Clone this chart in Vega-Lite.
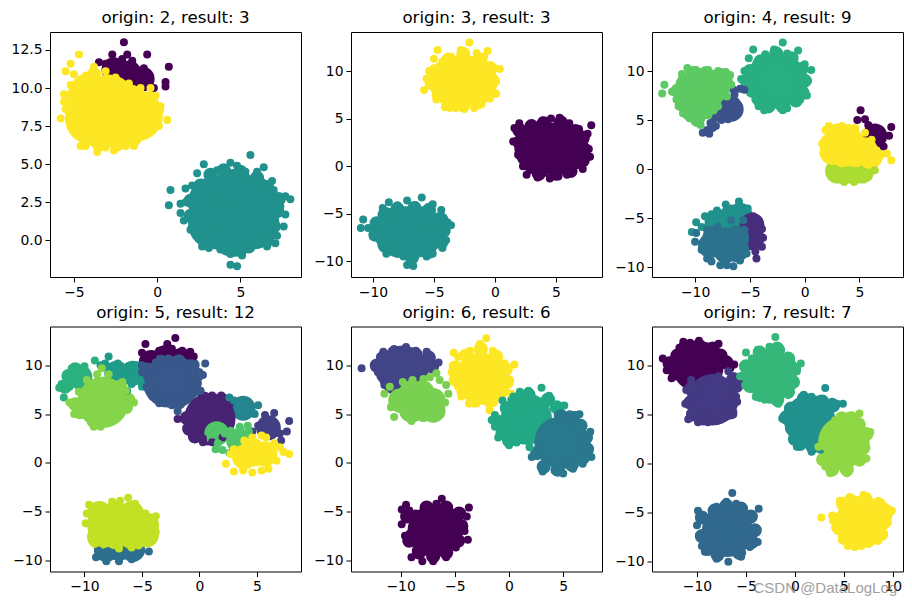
{"$schema":"https://vega.github.io/schema/vega-lite/v6.json","background":"white","padding":{"left":10,"top":9,"right":0,"bottom":0},"bounds":"flush","columns":3,"spacing":{"row":49.5,"column":50},"resolve":{"scale":{"color":"independent"}},
"config":{"view":{"stroke":"#000","strokeWidth":1},"circle":{"opacity":1},"title":{"font":"DejaVu Sans","fontSize":16.67,"fontWeight":"normal","color":"#000","offset":5,"anchor":"middle"},"axis":{"grid":false,"domain":false,"title":null,"labelFont":"DejaVu Sans","labelFontSize":13.9,"labelColor":"#000","tickColor":"#000","tickSize":5,"tickWidth":1,"labelPadding":3,"labelFlush":false,"labelOverlap":false}},
"datasets":{
"m1":[{"x":-1.7,"y":11,"c":0},{"x":-2.6,"y":11.2,"c":0},{"x":-0.9,"y":10.6,"c":0}],
"b1":[{"x":4.6,"y":1.8,"c":1},{"x":3.4,"y":2.5,"c":1},{"x":5.8,"y":2.5,"c":1},{"x":3.4,"y":1.1,"c":1},{"x":5.8,"y":1.1,"c":1},{"x":4.6,"y":3,"c":1},{"x":4.6,"y":0.6,"c":1},{"x":5.7,"y":1.8,"c":1},{"x":-2.8,"y":8.3,"c":2},{"x":-3.7,"y":8.9,"c":2},{"x":-1.9,"y":8.6,"c":2},{"x":-3.3,"y":7.7,"c":2},{"x":-2,"y":7.8,"c":2},{"x":-2.9,"y":9.2,"c":2},{"x":-1.2,"y":8.2,"c":2},{"x":-4,"y":8,"c":2},{"x":-3.9,"y":9.2,"c":2}],
"r1":[{"x":2.6,"y":3.6,"c":1},{"x":2,"y":2.6,"c":1},{"x":2,"y":1.6,"c":1},{"x":2.6,"y":0.6,"c":1},{"x":3.3,"y":-0.1,"c":1},{"x":4.4,"y":-0.5,"c":1},{"x":5.5,"y":-0.4,"c":1},{"x":6.6,"y":0,"c":1},{"x":7,"y":0.9,"c":1},{"x":7.2,"y":1.9,"c":1},{"x":7.3,"y":2.7,"c":1},{"x":6.6,"y":3.5,"c":1},{"x":6,"y":4.1,"c":1},{"x":5,"y":4.5,"c":1},{"x":4,"y":4.6,"c":1},{"x":3.2,"y":4.3,"c":1},{"x":-5,"y":9.6,"c":2},{"x":-5.1,"y":8.6,"c":2},{"x":-4.8,"y":7.7,"c":2},{"x":-4.3,"y":6.8,"c":2},{"x":-3.5,"y":6.3,"c":2},{"x":-2.4,"y":6.3,"c":2},{"x":-1.4,"y":6.6,"c":2},{"x":-0.5,"y":7.6,"c":2},{"x":0,"y":8.6,"c":2},{"x":-0.4,"y":9.3,"c":2},{"x":-4.5,"y":10.4,"c":2},{"x":-3.8,"y":10.9,"c":2}],
"d1":[{"x":-2,"y":13,"c":0},{"x":-2.7,"y":12.2,"c":0},{"x":-0.6,"y":12.2,"c":0},{"x":0.7,"y":11.4,"c":0},{"x":-1.8,"y":12.2,"c":0},{"x":-3.5,"y":11.7,"c":0},{"x":-1.5,"y":11.8,"c":0},{"x":-0.8,"y":11.3,"c":0},{"x":0.5,"y":10.4,"c":0},{"x":0.5,"y":10.1,"c":0},{"x":-0.2,"y":10,"c":0},{"x":-0.5,"y":10.8,"c":0},{"x":-2.5,"y":11.5,"c":0},{"x":-3.1,"y":11.6,"c":0},{"x":-2.1,"y":11.9,"c":0},{"x":-1.3,"y":10.9,"c":0},{"x":-1.9,"y":11.1,"c":0},{"x":-2.5,"y":11,"c":0},{"x":-0.9,"y":10.3,"c":0},{"x":-1.5,"y":11.2,"c":0},{"x":-0.9,"y":10.7,"c":0},{"x":-2,"y":11.5,"c":0},{"x":-4.7,"y":12.2,"c":2},{"x":-5.2,"y":11.6,"c":2},{"x":-5.5,"y":11.1,"c":2},{"x":-5.2,"y":10.2,"c":2},{"x":-5.8,"y":8,"c":2},{"x":-5.6,"y":9.6,"c":2},{"x":-5.6,"y":9.1,"c":2},{"x":-4.8,"y":6.9,"c":2},{"x":-4.6,"y":6.2,"c":2},{"x":-3.6,"y":5.8,"c":2},{"x":-2.6,"y":5.9,"c":2},{"x":-1.9,"y":6.2,"c":2},{"x":-1.4,"y":6.2,"c":2},{"x":-1.2,"y":6.6,"c":2},{"x":-0.4,"y":7.2,"c":2},{"x":0.1,"y":7.5,"c":2},{"x":0.6,"y":7.9,"c":2},{"x":0.2,"y":8.8,"c":2},{"x":-0.1,"y":9.5,"c":2},{"x":-0.4,"y":10,"c":2},{"x":-5.5,"y":8.6,"c":2},{"x":-5.2,"y":7.9,"c":2},{"x":-4.8,"y":10.4,"c":2},{"x":-4.3,"y":10.8,"c":2},{"x":-3.8,"y":11.4,"c":2},{"x":-3.1,"y":11.1,"c":2},{"x":-2.5,"y":10.7,"c":2},{"x":-1.7,"y":10.3,"c":2},{"x":-1,"y":10,"c":2},{"x":-4.3,"y":6.2,"c":2},{"x":-3.1,"y":6.1,"c":2},{"x":-5,"y":10.9,"c":2},{"x":5.6,"y":5.6,"c":1},{"x":2.8,"y":5,"c":1},{"x":6.4,"y":4.8,"c":1},{"x":4.4,"y":5.1,"c":1},{"x":4.8,"y":4.9,"c":1},{"x":2.4,"y":4.4,"c":1},{"x":0.8,"y":3.3,"c":1},{"x":0.7,"y":2.3,"c":1},{"x":1.7,"y":3.4,"c":1},{"x":1.4,"y":2.4,"c":1},{"x":1.4,"y":1.8,"c":1},{"x":1.6,"y":1.3,"c":1},{"x":2.1,"y":0.9,"c":1},{"x":2.7,"y":-0.4,"c":1},{"x":3.1,"y":-0.5,"c":1},{"x":4.4,"y":-1.6,"c":1},{"x":4.8,"y":-1.7,"c":1},{"x":5.1,"y":-1,"c":1},{"x":4.4,"y":-0.9,"c":1},{"x":6,"y":-0.3,"c":1},{"x":7.1,"y":-0.2,"c":1},{"x":7.2,"y":0.3,"c":1},{"x":7.6,"y":0.9,"c":1},{"x":7.7,"y":1.7,"c":1},{"x":8,"y":2.7,"c":1},{"x":7.7,"y":2.9,"c":1},{"x":7,"y":3.3,"c":1},{"x":6.9,"y":3.9,"c":1},{"x":6,"y":4.5,"c":1},{"x":5.3,"y":4.5,"c":1},{"x":3.6,"y":4.6,"c":1},{"x":2.1,"y":3.6,"c":1},{"x":1.7,"y":2.5,"c":1},{"x":2.6,"y":0.2,"c":1},{"x":3.8,"y":-0.6,"c":1},{"x":6.6,"y":-0.4,"c":1},{"x":2,"y":0.7,"c":1},{"x":7.4,"y":2.2,"c":1}],
"b2":[{"x":-2.6,"y":8.9,"c":2},{"x":-3.3,"y":8.9,"c":2},{"x":-1.9,"y":8.9,"c":2},{"x":3.7,"y":1.9,"c":0},{"x":5.5,"y":1.9,"c":0},{"x":4.6,"y":1.9,"c":0},{"x":-7,"y":-6.9,"c":1},{"x":-6.3,"y":-6.9,"c":1},{"x":-7.8,"y":-6.9,"c":1}],
"r2":[{"x":-4.9,"y":10,"c":2},{"x":-5.2,"y":8.8,"c":2},{"x":-4.6,"y":7.4,"c":2},{"x":-3.8,"y":6.6,"c":2},{"x":-2.6,"y":6.4,"c":2},{"x":-1.4,"y":6.7,"c":2},{"x":-0.5,"y":7.6,"c":2},{"x":-0.2,"y":9,"c":2},{"x":-0.4,"y":10.3,"c":2},{"x":-1.2,"y":11.2,"c":2},{"x":-2.6,"y":11.8,"c":2},{"x":-3.8,"y":11.2,"c":2},{"x":2,"y":3.8,"c":0},{"x":2,"y":2.5,"c":0},{"x":2.4,"y":1.2,"c":0},{"x":2.9,"y":0.1,"c":0},{"x":3.6,"y":-0.8,"c":0},{"x":5,"y":-0.8,"c":0},{"x":6.2,"y":-0.5,"c":0},{"x":7.2,"y":0.6,"c":0},{"x":7.3,"y":1.8,"c":0},{"x":7.2,"y":3,"c":0},{"x":6.6,"y":3.7,"c":0},{"x":5.4,"y":4.6,"c":0},{"x":4,"y":4.5,"c":0},{"x":3,"y":4.2,"c":0},{"x":-9.7,"y":-6,"c":1},{"x":-9.8,"y":-7.2,"c":1},{"x":-9,"y":-8.4,"c":1},{"x":-8,"y":-8.9,"c":1},{"x":-6.8,"y":-9.6,"c":1},{"x":-5.4,"y":-9,"c":1},{"x":-4.4,"y":-8,"c":1},{"x":-4.2,"y":-6.8,"c":1},{"x":-4.4,"y":-5.6,"c":1},{"x":-5.4,"y":-4.6,"c":1},{"x":-6.6,"y":-4.4,"c":1},{"x":-8,"y":-4.5,"c":1},{"x":-9,"y":-5,"c":1}],
"d2":[{"x":-2.1,"y":13,"c":2},{"x":-4.7,"y":12.2,"c":2},{"x":-0.6,"y":12.1,"c":2},{"x":-5,"y":11.3,"c":2},{"x":0.4,"y":10.2,"c":2},{"x":-5.4,"y":10,"c":2},{"x":-5.6,"y":9.2,"c":2},{"x":-5.8,"y":8,"c":2},{"x":-4.8,"y":7,"c":2},{"x":-4.1,"y":6.2,"c":2},{"x":-3.7,"y":6.1,"c":2},{"x":-2.5,"y":6,"c":2},{"x":-1.7,"y":6.1,"c":2},{"x":-1.1,"y":6.5,"c":2},{"x":-0.4,"y":7.1,"c":2},{"x":0.1,"y":7.6,"c":2},{"x":0.1,"y":8.9,"c":2},{"x":0,"y":10.3,"c":2},{"x":-0.9,"y":11.5,"c":2},{"x":-1.5,"y":11.9,"c":2},{"x":-2.8,"y":12.2,"c":2},{"x":-3.6,"y":11.5,"c":2},{"x":-4.3,"y":11,"c":2},{"x":-5.2,"y":8.4,"c":2},{"x":-4.4,"y":7.3,"c":2},{"x":-3.2,"y":6.1,"c":2},{"x":7.9,"y":4.3,"c":0},{"x":7.6,"y":3.4,"c":0},{"x":7.7,"y":1.8,"c":0},{"x":7.8,"y":1,"c":0},{"x":7.2,"y":-0.3,"c":0},{"x":5.9,"y":-0.9,"c":0},{"x":4.5,"y":-1.3,"c":0},{"x":3.5,"y":-1.2,"c":0},{"x":2.6,"y":-0.9,"c":0},{"x":2.3,"y":0,"c":0},{"x":1.9,"y":1.2,"c":0},{"x":1.5,"y":2.6,"c":0},{"x":1.6,"y":4,"c":0},{"x":2,"y":4.5,"c":0},{"x":2.9,"y":4.4,"c":0},{"x":3.9,"y":4.8,"c":0},{"x":5.3,"y":5.1,"c":0},{"x":4.6,"y":5,"c":0},{"x":6.1,"y":4.5,"c":0},{"x":6.9,"y":3.9,"c":0},{"x":7.4,"y":2.8,"c":0},{"x":1.9,"y":3.5,"c":0},{"x":6.7,"y":0.1,"c":0},{"x":5.2,"y":-1.1,"c":0},{"x":4.1,"y":-0.7,"c":0},{"x":3,"y":-0.4,"c":0},{"x":-6,"y":-3.3,"c":1},{"x":-8.7,"y":-3.8,"c":1},{"x":-5.1,"y":-4,"c":1},{"x":-7.2,"y":-3.6,"c":1},{"x":-10.8,"y":-5.6,"c":1},{"x":-11,"y":-6.5,"c":1},{"x":-3.6,"y":-6.2,"c":1},{"x":-3.9,"y":-5.9,"c":1},{"x":-4,"y":-7.8,"c":1},{"x":-4.3,"y":-8.6,"c":1},{"x":-5.1,"y":-9.2,"c":1},{"x":-6.7,"y":-10.5,"c":1},{"x":-7.2,"y":-10.4,"c":1},{"x":-7.5,"y":-9.5,"c":1},{"x":-8.9,"y":-9.2,"c":1},{"x":-9.3,"y":-8.3,"c":1},{"x":-10,"y":-7.4,"c":1},{"x":-10.4,"y":-6.5,"c":1},{"x":-9.3,"y":-5.1,"c":1},{"x":-9.2,"y":-4.4,"c":1},{"x":-8,"y":-4.1,"c":1},{"x":-6.5,"y":-4.1,"c":1},{"x":-4.7,"y":-5.3,"c":1},{"x":-5.6,"y":-9.5,"c":1},{"x":-8.1,"y":-9,"c":1},{"x":-4.4,"y":-4.6,"c":1}],
"b3":[{"x":-2.6,"y":9.2,"c":5},{"x":-3.1,"y":9,"c":5},{"x":-2.1,"y":9,"c":5},{"x":-9.2,"y":7.7,"c":6}],
"r3":[{"x":-5,"y":10,"c":5},{"x":-5.3,"y":9,"c":5},{"x":-4.8,"y":8,"c":5},{"x":-4.1,"y":7,"c":5},{"x":-3.3,"y":6.4,"c":5},{"x":-2,"y":6.4,"c":5},{"x":-0.8,"y":7,"c":5},{"x":-0.2,"y":7.8,"c":5},{"x":0,"y":9,"c":5},{"x":-0.3,"y":10.2,"c":5},{"x":-1.2,"y":11.3,"c":5},{"x":-2.6,"y":11.8,"c":5},{"x":-4,"y":11,"c":5},{"x":-11.6,"y":8,"c":6},{"x":-11,"y":9,"c":6},{"x":-10.2,"y":9.8,"c":6},{"x":-9,"y":9.8,"c":6},{"x":-7.6,"y":9.6,"c":6},{"x":-7.2,"y":9,"c":6},{"x":-11.2,"y":6.6,"c":6},{"x":-10.6,"y":5.7,"c":6},{"x":-9.8,"y":5,"c":6}],
"m3":[{"x":-8,"y":-5.5,"c":4},{"x":-6.8,"y":-5,"c":4},{"x":-5.9,"y":-4.7,"c":4},{"x":-4.8,"y":-7,"c":1},{"x":-4.8,"y":-5.7,"c":1},{"x":-8.6,"y":-7.8,"c":3},{"x":-7.2,"y":-7.2,"c":3},{"x":-7.2,"y":-8.3,"c":3},{"x":-6.2,"y":-7,"c":3},{"x":-6.2,"y":-8.2,"c":3},{"x":-8.2,"y":-7,"c":3},{"x":-6.7,"y":6.1,"c":2},{"x":6.4,"y":3.4,"c":0},{"x":4,"y":-0.2,"c":7},{"x":5.2,"y":-0.2,"c":7},{"x":3,"y":-0.2,"c":7},{"x":3.5,"y":2.5,"c":8},{"x":2.5,"y":2.5,"c":8},{"x":4.5,"y":2.5,"c":8},{"x":5.5,"y":2,"c":8},{"x":3.5,"y":1.5,"c":8},{"x":2.5,"y":1.7,"c":8},{"x":4.5,"y":1.5,"c":8},{"x":6,"y":1.3,"c":8},{"x":3,"y":3.4,"c":8},{"x":4,"y":3.3,"c":8}],
"d3":[{"x":-2,"y":12.9,"c":5},{"x":-4.7,"y":12.2,"c":5},{"x":-0.6,"y":12.1,"c":5},{"x":-5.1,"y":11.3,"c":5},{"x":0.6,"y":10.1,"c":5},{"x":-5.5,"y":10,"c":5},{"x":-5.8,"y":9.2,"c":5},{"x":-5.1,"y":8.3,"c":5},{"x":-4.5,"y":7.1,"c":5},{"x":-3.7,"y":6,"c":5},{"x":-2,"y":6,"c":5},{"x":-1.6,"y":6.2,"c":5},{"x":-0.4,"y":7.1,"c":5},{"x":0.2,"y":7.5,"c":5},{"x":0.3,"y":9,"c":5},{"x":0,"y":10.7,"c":5},{"x":-1.6,"y":11.8,"c":5},{"x":-2.8,"y":12.2,"c":5},{"x":-3.6,"y":11.7,"c":5},{"x":-4.4,"y":10.8,"c":5},{"x":-2.7,"y":6.6,"c":5},{"x":-4.2,"y":6.4,"c":5},{"x":-5.9,"y":8.2,"c":2},{"x":-6.4,"y":7.6,"c":2},{"x":-6.3,"y":6.9,"c":2},{"x":-6.1,"y":6.4,"c":2},{"x":-6.4,"y":5.7,"c":2},{"x":-7,"y":5.1,"c":2},{"x":-7.6,"y":5,"c":2},{"x":-8.1,"y":4.4,"c":2},{"x":-8.6,"y":4.7,"c":2},{"x":-9.3,"y":3.7,"c":2},{"x":-8.7,"y":3.6,"c":2},{"x":-7,"y":6.2,"c":2},{"x":-7.6,"y":5.7,"c":2},{"x":-8.2,"y":5.2,"c":2},{"x":-6.8,"y":7.1,"c":2},{"x":-6.5,"y":8.1,"c":2},{"x":-5.5,"y":8.1,"c":2},{"x":-7.2,"y":6.6,"c":2},{"x":-7.8,"y":5.6,"c":2},{"x":-8.4,"y":4.2,"c":2},{"x":-8.9,"y":4,"c":2},{"x":-10.7,"y":10.3,"c":6},{"x":-11.2,"y":9.7,"c":6},{"x":-12.8,"y":8.6,"c":6},{"x":-13,"y":7.7,"c":6},{"x":-12.1,"y":7.9,"c":6},{"x":-11.7,"y":7.1,"c":6},{"x":-11.1,"y":5.7,"c":6},{"x":-10.5,"y":5.2,"c":6},{"x":-9.5,"y":4.5,"c":6},{"x":-8.8,"y":5.5,"c":6},{"x":-7.9,"y":6.4,"c":6},{"x":-7.1,"y":7.4,"c":6},{"x":-6.7,"y":8.6,"c":6},{"x":-6.8,"y":9.6,"c":6},{"x":-7.2,"y":9.9,"c":6},{"x":-8.8,"y":10.1,"c":6},{"x":-9.9,"y":10.1,"c":6},{"x":-11.4,"y":8.8,"c":6},{"x":-8.3,"y":6,"c":6},{"x":-9.4,"y":5.2,"c":6},{"x":-11.5,"y":6.4,"c":6},{"x":-7.9,"y":10,"c":6},{"x":-6,"y":-3.3,"c":4},{"x":-5.2,"y":-4,"c":4},{"x":-7.2,"y":-3.6,"c":4},{"x":-6.7,"y":-4,"c":4},{"x":-8,"y":-4.2,"c":4},{"x":-9.1,"y":-4.8,"c":4},{"x":-9.9,"y":-5.4,"c":4},{"x":-10.3,"y":-6.4,"c":4},{"x":-8.5,"y":-4.6,"c":4},{"x":-9.4,"y":-5.9,"c":4},{"x":-4.7,"y":-4.8,"c":1},{"x":-4.7,"y":-5.4,"c":1},{"x":-3.9,"y":-6.1,"c":1},{"x":-3.8,"y":-7,"c":1},{"x":-3.9,"y":-7.9,"c":1},{"x":-4.5,"y":-8.4,"c":1},{"x":-4.4,"y":-9.1,"c":1},{"x":-10,"y":-7.4,"c":3},{"x":-9.9,"y":-6.5,"c":3},{"x":-8.9,"y":-6.2,"c":3},{"x":-7.9,"y":-5.9,"c":3},{"x":-6.7,"y":-5.2,"c":3},{"x":-5.6,"y":-5.2,"c":3},{"x":-5.5,"y":-6.2,"c":3},{"x":-5.5,"y":-7.4,"c":3},{"x":-5.3,"y":-8.6,"c":3},{"x":-5.9,"y":-9.3,"c":3},{"x":-6.5,"y":-9.9,"c":3},{"x":-7.1,"y":-9.8,"c":3},{"x":-8.5,"y":-9.4,"c":3},{"x":-8.9,"y":-9.1,"c":3},{"x":-9.4,"y":-8.2,"c":3},{"x":-7.7,"y":-9.8,"c":3},{"x":5.1,"y":6,"c":0},{"x":4.8,"y":5,"c":0},{"x":5.5,"y":5.1,"c":0},{"x":6.3,"y":4.2,"c":0},{"x":7.9,"y":4.3,"c":0},{"x":7.7,"y":3.4,"c":0},{"x":7,"y":3.3,"c":0},{"x":7.2,"y":2.3,"c":0},{"x":6.6,"y":3.8,"c":0},{"x":5.8,"y":4.5,"c":0},{"x":2.3,"y":-0.1,"c":7},{"x":2.5,"y":-0.8,"c":7},{"x":3.4,"y":-0.8,"c":7},{"x":3.6,"y":-1.3,"c":7},{"x":4.5,"y":-1.3,"c":7},{"x":5.1,"y":-0.9,"c":7},{"x":5.8,"y":-0.8,"c":7},{"x":6.4,"y":-0.1,"c":7},{"x":1.9,"y":4,"c":8},{"x":2.2,"y":4.4,"c":8},{"x":3.4,"y":4.4,"c":8},{"x":1.6,"y":2.6,"c":8},{"x":1.7,"y":1.6,"c":8},{"x":2.8,"y":1.1,"c":8},{"x":3.4,"y":0.6,"c":8},{"x":4.8,"y":0.6,"c":8},{"x":5.8,"y":0.6,"c":8},{"x":6.7,"y":1,"c":8},{"x":7.9,"y":0.9,"c":8},{"x":7.5,"y":1.6,"c":8},{"x":6.4,"y":1.8,"c":8},{"x":6.1,"y":3,"c":8},{"x":5.5,"y":3.7,"c":8},{"x":4.6,"y":4.2,"c":8},{"x":4,"y":4.2,"c":8},{"x":2.5,"y":3.7,"c":8},{"x":2.2,"y":1,"c":8},{"x":7,"y":1.5,"c":8}],
"m4":[{"x":-10.4,"y":8.8,"c":7},{"x":-7.2,"y":9.2,"c":6},{"x":-5.8,"y":9.2,"c":6},{"x":-3,"y":10.8,"c":0},{"x":-1.6,"y":10.5,"c":0},{"x":-4.2,"y":10.3,"c":0},{"x":3.8,"y":5.6,"c":5},{"x":6,"y":3.6,"c":2},{"x":-7,"y":-8.8,"c":4},{"x":-8.1,"y":-8.9,"c":4},{"x":-5.8,"y":-8.9,"c":4}],
"b4":[{"x":-8.4,"y":6.2,"c":9},{"x":-2.7,"y":8.3,"c":3},{"x":-2.1,"y":8.3,"c":3},{"x":0.9,"y":4.5,"c":1}],
"r4":[{"x":-11.4,"y":8.9,"c":7},{"x":-10.8,"y":9.6,"c":7},{"x":-11.7,"y":7.8,"c":7},{"x":-10.8,"y":6,"c":9},{"x":-10.4,"y":5.2,"c":9},{"x":-9.2,"y":4.3,"c":9},{"x":-7.6,"y":4.7,"c":9},{"x":-6.4,"y":5.7,"c":9},{"x":-6.2,"y":6.5,"c":9},{"x":-6.9,"y":7.8,"c":9},{"x":-4.6,"y":9.6,"c":3},{"x":-4.2,"y":7.8,"c":3},{"x":-3.6,"y":6.7,"c":3},{"x":-1.8,"y":6.2,"c":3},{"x":-0.7,"y":7.6,"c":3},{"x":-0.2,"y":9,"c":3},{"x":-0.6,"y":10,"c":3},{"x":-1.8,"y":10.4,"c":3},{"x":-3.4,"y":10.4,"c":3},{"x":-0.4,"y":8.2,"c":3},{"x":-0.9,"y":3.5,"c":1},{"x":-0.4,"y":2.7,"c":1},{"x":0.7,"y":2.5,"c":1},{"x":-1.1,"y":4.6,"c":1},{"x":1.9,"y":6.5,"c":1},{"x":0.4,"y":6.6,"c":1}],
"n4":[{"x":1.5,"y":3,"c":8},{"x":3.4,"y":2.3,"c":8},{"x":4.8,"y":0.9,"c":11},{"x":3.9,"y":0.6,"c":11},{"x":5.7,"y":0.9,"c":11},{"x":4.6,"y":1.3,"c":11},{"x":-8.7,"y":-7.6,"c":10},{"x":-7.3,"y":-7.6,"c":10},{"x":-5.9,"y":-7.6,"c":10},{"x":-4.6,"y":-7.4,"c":10},{"x":-8.7,"y":-6.4,"c":10},{"x":-7.3,"y":-6.4,"c":10},{"x":-5.9,"y":-6.4,"c":10},{"x":-4.6,"y":-6.4,"c":10},{"x":-8.7,"y":-5.2,"c":10},{"x":-7.3,"y":-5.2,"c":10},{"x":-5.9,"y":-5.2,"c":10}],
"d4":[{"x":-2.1,"y":12.8,"c":0},{"x":-4.7,"y":12.2,"c":0},{"x":-5,"y":11.3,"c":0},{"x":-2.8,"y":12.2,"c":0},{"x":-3.5,"y":11.5,"c":0},{"x":-0.8,"y":11.4,"c":0},{"x":-0.5,"y":10.9,"c":0},{"x":-4.6,"y":10.7,"c":0},{"x":-2.4,"y":11.7,"c":0},{"x":-1.5,"y":11.5,"c":0},{"x":-4.1,"y":10.9,"c":0},{"x":-12.2,"y":7.7,"c":7},{"x":-11.8,"y":6.7,"c":7},{"x":-12,"y":8.1,"c":7},{"x":-11.3,"y":8.8,"c":7},{"x":-11.1,"y":9.7,"c":7},{"x":-10,"y":9.9,"c":7},{"x":-9.1,"y":10.5,"c":7},{"x":-11.3,"y":7.8,"c":7},{"x":-7.9,"y":10.9,"c":6},{"x":-7.1,"y":10.2,"c":6},{"x":-6.4,"y":9.3,"c":6},{"x":-5.9,"y":8.1,"c":6},{"x":-6.3,"y":7.4,"c":6},{"x":-8.2,"y":10,"c":6},{"x":-8.2,"y":10.2,"c":6},{"x":-8.6,"y":10,"c":6},{"x":-5.3,"y":10,"c":6},{"x":-5.3,"y":9.3,"c":6},{"x":-5.1,"y":8.3,"c":6},{"x":-5,"y":7.8,"c":6},{"x":-8.5,"y":9.7,"c":9},{"x":-7.9,"y":9.1,"c":9},{"x":-6.7,"y":8.3,"c":9},{"x":-6.4,"y":7.4,"c":9},{"x":-5.7,"y":6.2,"c":9},{"x":-6.2,"y":5.6,"c":9},{"x":-7.2,"y":4.9,"c":9},{"x":-8.6,"y":3.7,"c":9},{"x":-9.2,"y":3.7,"c":9},{"x":-9.9,"y":4.9,"c":9},{"x":-10.9,"y":5,"c":9},{"x":-11.3,"y":6.2,"c":9},{"x":-10.5,"y":7.3,"c":9},{"x":-9.8,"y":8.5,"c":9},{"x":-8.9,"y":9.1,"c":9},{"x":-9.7,"y":4.7,"c":9},{"x":-8.1,"y":4.5,"c":9},{"x":-6.6,"y":6.4,"c":9},{"x":0.5,"y":10.2,"c":3},{"x":0.3,"y":9,"c":3},{"x":0.1,"y":7.4,"c":3},{"x":-0.3,"y":7.3,"c":3},{"x":-1.3,"y":6.8,"c":3},{"x":-1.6,"y":6.1,"c":3},{"x":-1.9,"y":5.3,"c":3},{"x":-2.4,"y":5.9,"c":3},{"x":-3.5,"y":6.1,"c":3},{"x":-4.1,"y":6.8,"c":3},{"x":-4.6,"y":7.8,"c":3},{"x":-5,"y":9.3,"c":3},{"x":-5,"y":10,"c":3},{"x":-3.8,"y":10.3,"c":3},{"x":-2.7,"y":10.7,"c":3},{"x":-1.8,"y":10.7,"c":3},{"x":-0.6,"y":10.2,"c":3},{"x":0,"y":9.3,"c":3},{"x":-0.6,"y":7.6,"c":3},{"x":-2.9,"y":6.4,"c":3},{"x":-1.1,"y":7.1,"c":3},{"x":1.1,"y":6.9,"c":1},{"x":1.9,"y":6.9,"c":1},{"x":2.7,"y":6.1,"c":1},{"x":2,"y":2.6,"c":1},{"x":1.1,"y":2.1,"c":1},{"x":0.3,"y":2.1,"c":1},{"x":-0.6,"y":3.2,"c":1},{"x":-1.2,"y":4.4,"c":1},{"x":-1.9,"y":4.5,"c":1},{"x":-0.3,"y":5,"c":1},{"x":0,"y":6.4,"c":1},{"x":0.6,"y":6.4,"c":1},{"x":0.3,"y":2.5,"c":1},{"x":2.6,"y":6.7,"c":5},{"x":3.3,"y":6.1,"c":5},{"x":4.1,"y":6.2,"c":5},{"x":5.1,"y":5.9,"c":5},{"x":4.8,"y":5,"c":5},{"x":3,"y":6.4,"c":5},{"x":5.7,"y":4.9,"c":2},{"x":6.5,"y":5.1,"c":2},{"x":7.8,"y":4.3,"c":2},{"x":7.6,"y":3.2,"c":2},{"x":7.1,"y":2.3,"c":2},{"x":5.1,"y":3.8,"c":2},{"x":4.6,"y":3.2,"c":2},{"x":7,"y":3,"c":2},{"x":4.2,"y":3.8,"c":8},{"x":4.3,"y":3.2,"c":8},{"x":3.6,"y":3.3,"c":8},{"x":2.7,"y":3.3,"c":8},{"x":2.2,"y":3,"c":8},{"x":1.6,"y":2,"c":8},{"x":1.4,"y":1.4,"c":8},{"x":2,"y":1.3,"c":8},{"x":2.6,"y":1,"c":8},{"x":3.5,"y":3.7,"c":8},{"x":2.3,"y":-0.1,"c":11},{"x":3,"y":-0.9,"c":11},{"x":4.6,"y":-1,"c":11},{"x":6,"y":-0.6,"c":11},{"x":6.7,"y":0.2,"c":11},{"x":7.8,"y":0.9,"c":11},{"x":7,"y":1.6,"c":11},{"x":5.8,"y":2.6,"c":11},{"x":4.6,"y":2.6,"c":11},{"x":3.9,"y":2.3,"c":11},{"x":3,"y":1.4,"c":11},{"x":2.7,"y":0.9,"c":11},{"x":5.4,"y":2.8,"c":11},{"x":6.5,"y":2,"c":11},{"x":7.3,"y":1.1,"c":11},{"x":3.8,"y":-0.8,"c":11},{"x":5.4,"y":-0.8,"c":11},{"x":-9,"y":-9.7,"c":4},{"x":-8.1,"y":-10.1,"c":4},{"x":-7,"y":-10.1,"c":4},{"x":-5.9,"y":-9.9,"c":4},{"x":-4.4,"y":-9.1,"c":4},{"x":-5.3,"y":-9.2,"c":4},{"x":-8.8,"y":-9,"c":4},{"x":-7.6,"y":-9.5,"c":4},{"x":-6.4,"y":-9.4,"c":4},{"x":-6.2,"y":-3.6,"c":10},{"x":-7.6,"y":-4,"c":10},{"x":-9.6,"y":-4.3,"c":10},{"x":-9.9,"y":-6.2,"c":10},{"x":-9.8,"y":-5.2,"c":10},{"x":-9.2,"y":-7.3,"c":10},{"x":-9.1,"y":-8.3,"c":10},{"x":-7,"y":-8.8,"c":10},{"x":-5.3,"y":-8.5,"c":10},{"x":-4.3,"y":-7.8,"c":10},{"x":-3.8,"y":-7.1,"c":10},{"x":-3.8,"y":-5.5,"c":10},{"x":-4.7,"y":-5.2,"c":10},{"x":-5.6,"y":-4.2,"c":10},{"x":-6.9,"y":-3.9,"c":10},{"x":-8.5,"y":-4.7,"c":10},{"x":-8.2,"y":-8.3,"c":10},{"x":-4.6,"y":-8.2,"c":10},{"x":-5.9,"y":-8.7,"c":10}],
"b5":[{"x":-7,"y":-7,"c":0},{"x":-6.6,"y":-6.8,"c":0},{"x":-9.8,"y":9.4,"c":1},{"x":-2.6,"y":8.7,"c":5},{"x":-2.4,"y":8.6,"c":5},{"x":1.6,"y":4.5,"c":3},{"x":4.7,"y":2.1,"c":2},{"x":4.9,"y":2,"c":2}],
"r5":[{"x":-9.4,"y":-5.5,"c":0},{"x":-9.2,"y":-8,"c":0},{"x":-8.3,"y":-9.2,"c":0},{"x":-7,"y":-9.6,"c":0},{"x":-5.8,"y":-9.2,"c":0},{"x":-4.7,"y":-8,"c":0},{"x":-4.4,"y":-6.5,"c":0},{"x":-4.6,"y":-5.2,"c":0},{"x":-5.8,"y":-4.6,"c":0},{"x":-7.6,"y":-4.6,"c":0},{"x":-12.2,"y":10,"c":1},{"x":-11.6,"y":9,"c":1},{"x":-11.6,"y":10.8,"c":1},{"x":-10.6,"y":11.3,"c":1},{"x":-8.6,"y":11.1,"c":1},{"x":-7.4,"y":10.8,"c":1},{"x":-7.1,"y":9.9,"c":1},{"x":-4.9,"y":9.8,"c":5},{"x":-4.9,"y":8.5,"c":5},{"x":-4.2,"y":7.3,"c":5},{"x":-3.3,"y":6.4,"c":5},{"x":-1.6,"y":6.4,"c":5},{"x":-0.8,"y":7.2,"c":5},{"x":-0.2,"y":8.3,"c":5},{"x":-0.3,"y":9.6,"c":5},{"x":-1.2,"y":10.9,"c":5},{"x":-2.6,"y":11.7,"c":5},{"x":-4,"y":11,"c":5},{"x":-1,"y":4.2,"c":3},{"x":-0.6,"y":3.1,"c":3},{"x":0,"y":2.3,"c":3},{"x":-0.2,"y":5.6,"c":3},{"x":0.5,"y":6.5,"c":3},{"x":1.8,"y":7,"c":3},{"x":3.6,"y":6.5,"c":3},{"x":4.4,"y":5.7,"c":3},{"x":2.6,"y":1,"c":2},{"x":3.2,"y":-0.4,"c":2},{"x":4.5,"y":-0.7,"c":2},{"x":5.8,"y":-0.2,"c":2},{"x":6.8,"y":0.5,"c":2},{"x":7.2,"y":1.4,"c":2},{"x":7.1,"y":2.6,"c":2},{"x":6.6,"y":3.8,"c":2},{"x":5.9,"y":4.6,"c":2},{"x":4.8,"y":4.8,"c":2}],
"n5":[{"x":-10,"y":6.4,"c":4},{"x":-9,"y":6.1,"c":4},{"x":-8,"y":6.4,"c":4},{"x":-7,"y":6.4,"c":4},{"x":-9,"y":7.2,"c":4},{"x":-8,"y":7.2,"c":4},{"x":-7.9,"y":5.5,"c":4},{"x":-9,"y":5.4,"c":4},{"x":-7,"y":5.4,"c":4}],
"d5":[{"x":-6.2,"y":-3.7,"c":0},{"x":-9.5,"y":-4.3,"c":0},{"x":-9.9,"y":-4.8,"c":0},{"x":-9.2,"y":-4.9,"c":0},{"x":-3.7,"y":-4.6,"c":0},{"x":-3.9,"y":-5.5,"c":0},{"x":-9.9,"y":-6.3,"c":0},{"x":-9.6,"y":-7.5,"c":0},{"x":-3.8,"y":-7.9,"c":0},{"x":-4.1,"y":-7,"c":0},{"x":-9,"y":-9.7,"c":0},{"x":-8,"y":-10.1,"c":0},{"x":-7,"y":-10.1,"c":0},{"x":-5.8,"y":-9.7,"c":0},{"x":-4.9,"y":-8.7,"c":0},{"x":-5.2,"y":-5.2,"c":0},{"x":-7.6,"y":-4.6,"c":0},{"x":-8.6,"y":-5.2,"c":0},{"x":-9.2,"y":-7.3,"c":0},{"x":-8.6,"y":-9,"c":0},{"x":-6.7,"y":-4.2,"c":0},{"x":-5.8,"y":-4.6,"c":0},{"x":-4.6,"y":-6.1,"c":0},{"x":-13.6,"y":9.7,"c":1},{"x":-12.4,"y":9.8,"c":1},{"x":-11.6,"y":11.4,"c":1},{"x":-10.6,"y":11.7,"c":1},{"x":-9.5,"y":11.9,"c":1},{"x":-7.6,"y":11.4,"c":1},{"x":-6.5,"y":10.3,"c":1},{"x":-7,"y":10,"c":1},{"x":-11.9,"y":10.9,"c":1},{"x":-12.1,"y":9.3,"c":1},{"x":-11.5,"y":8,"c":1},{"x":-10.4,"y":8,"c":1},{"x":-8.6,"y":11.5,"c":1},{"x":-6.7,"y":9.2,"c":4},{"x":-5.8,"y":8,"c":4},{"x":-5.6,"y":7.1,"c":4},{"x":-5.9,"y":6.2,"c":4},{"x":-6.3,"y":5,"c":4},{"x":-7.9,"y":4.6,"c":4},{"x":-9,"y":4.3,"c":4},{"x":-10.6,"y":4.7,"c":4},{"x":-10.9,"y":5.7,"c":4},{"x":-11.5,"y":7.1,"c":4},{"x":-11,"y":7.8,"c":4},{"x":-9.8,"y":8.3,"c":4},{"x":-8.9,"y":8.5,"c":4},{"x":-7.9,"y":8.6,"c":4},{"x":-7.3,"y":8.8,"c":4},{"x":-6.4,"y":8.5,"c":4},{"x":-7.2,"y":5,"c":4},{"x":-2.1,"y":12.8,"c":5},{"x":-5.1,"y":11.3,"c":5},{"x":-2.7,"y":12.2,"c":5},{"x":0.5,"y":10.1,"c":5},{"x":0.2,"y":7.1,"c":5},{"x":-1.8,"y":5.4,"c":5},{"x":-1.9,"y":6.1,"c":5},{"x":-3.7,"y":6.1,"c":5},{"x":-4.4,"y":6.8,"c":5},{"x":-5.2,"y":8.5,"c":5},{"x":-5.3,"y":9.3,"c":5},{"x":-5.2,"y":10,"c":5},{"x":-3.6,"y":11.5,"c":5},{"x":-0.9,"y":10.9,"c":5},{"x":-0.4,"y":10.2,"c":5},{"x":0.1,"y":8.5,"c":5},{"x":-0.9,"y":6.8,"c":5},{"x":-4.7,"y":10.9,"c":5},{"x":-3,"y":6.1,"c":5},{"x":-0.3,"y":7.4,"c":5},{"x":-1.5,"y":11.5,"c":5},{"x":-4.7,"y":7.8,"c":5},{"x":3,"y":7.7,"c":3},{"x":1.8,"y":7.4,"c":3},{"x":3.7,"y":6.9,"c":3},{"x":5.1,"y":5.9,"c":3},{"x":1.9,"y":1.6,"c":3},{"x":0,"y":1.8,"c":3},{"x":-1,"y":2.6,"c":3},{"x":-1.6,"y":4.4,"c":3},{"x":-1.3,"y":4.9,"c":3},{"x":-0.4,"y":5.7,"c":3},{"x":-0.6,"y":6.4,"c":3},{"x":0.4,"y":6.8,"c":3},{"x":1,"y":7.3,"c":3},{"x":4.2,"y":5.7,"c":3},{"x":-0.4,"y":3,"c":3},{"x":0.7,"y":2.1,"c":3},{"x":-1.3,"y":3.7,"c":3},{"x":6.5,"y":5,"c":2},{"x":7.5,"y":3.2,"c":2},{"x":7.3,"y":1.6,"c":2},{"x":7.6,"y":0.6,"c":2},{"x":5.9,"y":-0.6,"c":2},{"x":5,"y":-1.1,"c":2},{"x":3.1,"y":-0.9,"c":2},{"x":2.1,"y":0.6,"c":2},{"x":4.5,"y":4.9,"c":2},{"x":5.6,"y":5,"c":2},{"x":7.1,"y":2.6,"c":2},{"x":6.8,"y":-0.1,"c":2},{"x":4.2,"y":-0.8,"c":2},{"x":6.2,"y":4.9,"c":2}],
"b6":[{"x":-9.9,"y":9.9,"c":0},{"x":-8.4,"y":6.5,"c":1},{"x":-2.6,"y":9.1,"c":4},{"x":1.5,"y":4.4,"c":3},{"x":5,"y":2.2,"c":5},{"x":-6.9,"y":-6.9,"c":2},{"x":6.8,"y":-5.9,"c":6}],
"r6":[{"x":-12.8,"y":10.2,"c":0},{"x":-12.2,"y":9.2,"c":0},{"x":-12,"y":11,"c":0},{"x":-11.2,"y":11.9,"c":0},{"x":-9.8,"y":12,"c":0},{"x":-8.4,"y":11.7,"c":0},{"x":-7.6,"y":11,"c":0},{"x":-7,"y":10.3,"c":0},{"x":-10.6,"y":7.6,"c":1},{"x":-10.7,"y":6.2,"c":1},{"x":-10.4,"y":5,"c":1},{"x":-9.4,"y":4.6,"c":1},{"x":-6.6,"y":5.2,"c":1},{"x":-6.4,"y":6.3,"c":1},{"x":-6,"y":7.9,"c":1},{"x":-6.3,"y":8.6,"c":1},{"x":-5,"y":9.9,"c":4},{"x":-5.1,"y":8.8,"c":4},{"x":-4.6,"y":7.9,"c":4},{"x":-3.6,"y":7,"c":4},{"x":-1.8,"y":6.5,"c":4},{"x":-0.7,"y":7.3,"c":4},{"x":-0.2,"y":8.3,"c":4},{"x":-0.1,"y":9.6,"c":4},{"x":-0.7,"y":10.7,"c":4},{"x":-1.8,"y":11.7,"c":4},{"x":-3.6,"y":11.3,"c":4},{"x":-0.9,"y":4.7,"c":3},{"x":-0.3,"y":3.6,"c":3},{"x":0,"y":2.5,"c":3},{"x":0.5,"y":2,"c":3},{"x":-0.4,"y":5.6,"c":3},{"x":0.9,"y":6.6,"c":3},{"x":2.8,"y":6.3,"c":3},{"x":3.9,"y":5.9,"c":3},{"x":1.8,"y":1.7,"c":3},{"x":2.9,"y":0.4,"c":5},{"x":3.8,"y":-0.6,"c":5},{"x":5.3,"y":-0.6,"c":5},{"x":6.6,"y":0.4,"c":5},{"x":7,"y":1.6,"c":5},{"x":7.3,"y":3,"c":5},{"x":6.5,"y":4,"c":5},{"x":5.8,"y":4.6,"c":5},{"x":4.8,"y":4.6,"c":5},{"x":-9.5,"y":-5.5,"c":2},{"x":-9.5,"y":-7.4,"c":2},{"x":-8.9,"y":-8.7,"c":2},{"x":-7.9,"y":-9.3,"c":2},{"x":-5.7,"y":-9.1,"c":2},{"x":-4.4,"y":-8,"c":2},{"x":-4.1,"y":-6.8,"c":2},{"x":-4.5,"y":-5.4,"c":2},{"x":-5.5,"y":-4.6,"c":2},{"x":-7,"y":-4.3,"c":2},{"x":-8.2,"y":-4.8,"c":2},{"x":4.9,"y":-4.1,"c":6},{"x":4.3,"y":-5.7,"c":6},{"x":4.5,"y":-6.6,"c":6},{"x":5.1,"y":-7.6,"c":6},{"x":6.2,"y":-8.1,"c":6},{"x":7.6,"y":-7.8,"c":6},{"x":8.8,"y":-7.2,"c":6},{"x":9.1,"y":-6,"c":6},{"x":9.4,"y":-4.9,"c":6},{"x":8.6,"y":-4.2,"c":6},{"x":7.2,"y":-3.6,"c":6},{"x":5.7,"y":-3.8,"c":6}],
"d6":[{"x":-13.5,"y":10.7,"c":0},{"x":-11.4,"y":12.4,"c":0},{"x":-9.8,"y":12.5,"c":0},{"x":-7.8,"y":12.2,"c":0},{"x":-11.8,"y":11.8,"c":0},{"x":-13.1,"y":9.5,"c":0},{"x":-12.6,"y":8.7,"c":0},{"x":-11.4,"y":8.5,"c":0},{"x":-6.8,"y":10.2,"c":0},{"x":-6.2,"y":10.1,"c":0},{"x":-7.4,"y":11.1,"c":0},{"x":-8.9,"y":11.9,"c":0},{"x":-10.7,"y":12.3,"c":0},{"x":-12.3,"y":10.9,"c":0},{"x":-11.9,"y":9,"c":0},{"x":-6.6,"y":9.7,"c":0},{"x":-5.6,"y":8.1,"c":1},{"x":-6,"y":6.8,"c":1},{"x":-5.9,"y":6.3,"c":1},{"x":-6.3,"y":5,"c":1},{"x":-7.8,"y":4.4,"c":1},{"x":-8.9,"y":4.2,"c":1},{"x":-9.9,"y":4.2,"c":1},{"x":-10.9,"y":4.5,"c":1},{"x":-10.7,"y":5.1,"c":1},{"x":-11.2,"y":6.1,"c":1},{"x":-11.1,"y":7.5,"c":1},{"x":-10.6,"y":8.5,"c":1},{"x":-9.2,"y":8.5,"c":1},{"x":-7.8,"y":8.9,"c":1},{"x":-6.8,"y":9.4,"c":1},{"x":-6.1,"y":8.5,"c":1},{"x":-8.5,"y":4.4,"c":1},{"x":-7,"y":4.8,"c":1},{"x":-2,"y":12.9,"c":4},{"x":-5,"y":11.3,"c":4},{"x":0.6,"y":10.2,"c":4},{"x":0.2,"y":9.4,"c":4},{"x":-1.7,"y":6.1,"c":4},{"x":-3.1,"y":6.5,"c":4},{"x":-4,"y":6.8,"c":4},{"x":-5.1,"y":8,"c":4},{"x":-5.6,"y":8.9,"c":4},{"x":-5.1,"y":10.1,"c":4},{"x":-3.8,"y":11.6,"c":4},{"x":-1.4,"y":11.6,"c":4},{"x":-0.3,"y":10.2,"c":4},{"x":-0.2,"y":8,"c":4},{"x":-0.7,"y":7,"c":4},{"x":-4.4,"y":10.7,"c":4},{"x":-2.6,"y":11.9,"c":4},{"x":-2.6,"y":6.5,"c":4},{"x":3.1,"y":7.7,"c":3},{"x":0.9,"y":7,"c":3},{"x":1.7,"y":6.8,"c":3},{"x":-0.7,"y":5.6,"c":3},{"x":-1.3,"y":4.6,"c":3},{"x":-0.5,"y":3.6,"c":3},{"x":-0.2,"y":2.4,"c":3},{"x":0.2,"y":1.7,"c":3},{"x":1.7,"y":1.2,"c":3},{"x":2.6,"y":1.4,"c":3},{"x":4.9,"y":6.1,"c":3},{"x":4.3,"y":6.1,"c":3},{"x":2.6,"y":6.6,"c":3},{"x":3.8,"y":6.3,"c":3},{"x":6.6,"y":5.1,"c":5},{"x":7.7,"y":3.2,"c":5},{"x":7.2,"y":1.7,"c":5},{"x":7.3,"y":0.5,"c":5},{"x":5.3,"y":-1,"c":5},{"x":3.6,"y":-1,"c":5},{"x":2.6,"y":0.3,"c":5},{"x":2.4,"y":1.7,"c":5},{"x":3.1,"y":1.7,"c":5},{"x":3.4,"y":3.1,"c":5},{"x":4.1,"y":4.4,"c":5},{"x":4.6,"y":4.8,"c":5},{"x":5.6,"y":4.9,"c":5},{"x":6.8,"y":3.9,"c":5},{"x":6.5,"y":0.7,"c":5},{"x":4.4,"y":-0.3,"c":5},{"x":3.1,"y":-0.3,"c":5},{"x":-6.4,"y":-3,"c":2},{"x":-9.9,"y":-4.8,"c":2},{"x":-3.7,"y":-4.6,"c":2},{"x":-10,"y":-6.3,"c":2},{"x":-9.8,"y":-7.3,"c":2},{"x":-3.8,"y":-8,"c":2},{"x":-9.2,"y":-9,"c":2},{"x":-6.8,"y":-10,"c":2},{"x":-8,"y":-9.7,"c":2},{"x":-5.5,"y":-9.5,"c":2},{"x":-4.3,"y":-6.8,"c":2},{"x":-4.4,"y":-5.5,"c":2},{"x":-7,"y":-3.9,"c":2},{"x":-8,"y":-4.4,"c":2},{"x":-9.2,"y":-5.5,"c":2},{"x":-4.6,"y":-8.5,"c":2},{"x":-6,"y":-4.1,"c":2},{"x":-5.3,"y":-4.8,"c":2},{"x":-9.5,"y":-8.4,"c":2},{"x":2.7,"y":-5.5,"c":6},{"x":3.8,"y":-5.3,"c":6},{"x":9.9,"y":-4.8,"c":6},{"x":9.5,"y":-6,"c":6},{"x":9.1,"y":-7.2,"c":6},{"x":8.5,"y":-7.9,"c":6},{"x":7.5,"y":-8.2,"c":6},{"x":6.1,"y":-8.5,"c":6},{"x":4.8,"y":-7.8,"c":6},{"x":4.1,"y":-6.5,"c":6},{"x":3.9,"y":-5.8,"c":6},{"x":4.6,"y":-3.8,"c":6},{"x":5.6,"y":-3.4,"c":6},{"x":7,"y":-3.2,"c":6},{"x":8.5,"y":-3.8,"c":6},{"x":9.2,"y":-4.4,"c":6},{"x":5.4,"y":-8.4,"c":6},{"x":6.8,"y":-8.4,"c":6},{"x":9.5,"y":-5.5,"c":6}]
},
"concat":[
{"title":"origin: 2, result: 3","width":251,"height":245,"encoding":{"x":{"field":"x","type":"quantitative","scale":{"domain":[-6.44,8.64],"nice":false,"zero":false},"axis":{"values":[-5,0,5]}},"y":{"field":"y","type":"quantitative","scale":{"domain":[-2.41,13.68],"nice":false,"zero":false},"axis":{"values":[0,2.5,5,7.5,10,12.5],"format":".1f"}},"color":{"field":"c","type":"quantitative","scale":{"scheme":"viridis","domain":[0,2]},"legend":null}},"layer":[{"data":{"name":"m1"},"mark":{"type":"circle","size":616}},{"data":{"name":"b1"},"mark":{"type":"circle","size":2640}},{"data":{"name":"r1"},"mark":{"type":"circle","size":200}},{"data":{"name":"d1"},"mark":{"type":"circle","size":64}}]},
{"title":"origin: 3, result: 3","width":251,"height":245,"encoding":{"x":{"field":"x","type":"quantitative","scale":{"domain":[-11.8,8.78],"nice":false,"zero":false},"axis":{"values":[-10,-5,0,5]}},"y":{"field":"y","type":"quantitative","scale":{"domain":[-11.65,14.1],"nice":false,"zero":false},"axis":{"values":[-10,-5,0,5,10]}},"color":{"field":"c","type":"quantitative","scale":{"scheme":"viridis","domain":[0,2]},"legend":null}},"layer":[{"data":{"name":"b2"},"mark":{"type":"circle","size":2640}},{"data":{"name":"r2"},"mark":{"type":"circle","size":200}},{"data":{"name":"d2"},"mark":{"type":"circle","size":64}}]},
{"title":"origin: 4, result: 9","width":251,"height":245,"encoding":{"x":{"field":"x","type":"quantitative","scale":{"domain":[-13.93,8.97],"nice":false,"zero":false},"axis":{"values":[-10,-5,0,5]}},"y":{"field":"y","type":"quantitative","scale":{"domain":[-10.99,13.98],"nice":false,"zero":false},"axis":{"values":[-10,-5,0,5,10]}},"color":{"field":"c","type":"quantitative","scale":{"scheme":"viridis","domain":[0,8]},"legend":null}},"layer":[{"data":{"name":"b3"},"mark":{"type":"circle","size":2640}},{"data":{"name":"r3"},"mark":{"type":"circle","size":200}},{"data":{"name":"m3"},"mark":{"type":"circle","size":616}},{"data":{"name":"d3"},"mark":{"type":"circle","size":64}}]},
{"title":"origin: 5, result: 12","width":251,"height":245,"encoding":{"x":{"field":"x","type":"quantitative","scale":{"domain":[-13,8.83],"nice":false,"zero":false},"axis":{"values":[-10,-5,0,5]}},"y":{"field":"y","type":"quantitative","scale":{"domain":[-11.16,13.99],"nice":false,"zero":false},"axis":{"values":[-10,-5,0,5,10]}},"color":{"field":"c","type":"quantitative","scale":{"scheme":"viridis","domain":[0,11]},"legend":null}},"layer":[{"data":{"name":"m4"},"mark":{"type":"circle","size":616}},{"data":{"name":"b4"},"mark":{"type":"circle","size":2640}},{"data":{"name":"r4"},"mark":{"type":"circle","size":200}},{"data":{"name":"n4"},"mark":{"type":"circle","size":616}},{"data":{"name":"d4"},"mark":{"type":"circle","size":64}}]},
{"title":"origin: 6, result: 6","width":251,"height":245,"encoding":{"x":{"field":"x","type":"quantitative","scale":{"domain":[-14.58,8.58],"nice":false,"zero":false},"axis":{"values":[-10,-5,0,5]}},"y":{"field":"y","type":"quantitative","scale":{"domain":[-11.16,14],"nice":false,"zero":false},"axis":{"values":[-10,-5,0,5,10]}},"color":{"field":"c","type":"quantitative","scale":{"scheme":"viridis","domain":[0,5]},"legend":null}},"layer":[{"data":{"name":"b5"},"mark":{"type":"circle","size":2640}},{"data":{"name":"r5"},"mark":{"type":"circle","size":200}},{"data":{"name":"n5"},"mark":{"type":"circle","size":616}},{"data":{"name":"d5"},"mark":{"type":"circle","size":64}}]},
{"title":"origin: 7, result: 7","width":251,"height":245,"encoding":{"x":{"field":"x","type":"quantitative","scale":{"domain":[-14.6,11.04],"nice":false,"zero":false},"axis":{"values":[-10,-5,0,5,10]}},"y":{"field":"y","type":"quantitative","scale":{"domain":[-11,13.96],"nice":false,"zero":false},"axis":{"values":[-10,-5,0,5,10]}},"color":{"field":"c","type":"quantitative","scale":{"scheme":"viridis","domain":[0,6]},"legend":null}},"layer":[{"data":{"name":"b6"},"mark":{"type":"circle","size":2640}},{"data":{"name":"r6"},"mark":{"type":"circle","size":200}},{"data":{"name":"d6"},"mark":{"type":"circle","size":64}},{"data":{"values":[{"x":3.1,"y":-12.64,"t":"CSDN @DataLogLog"}]},"mark":{"type":"text","font":"Liberation Sans","fontSize":15,"color":"#808080","opacity":0.75},"encoding":{"text":{"field":"t"},"color":{"value":"#808080"}}}]}
]}
